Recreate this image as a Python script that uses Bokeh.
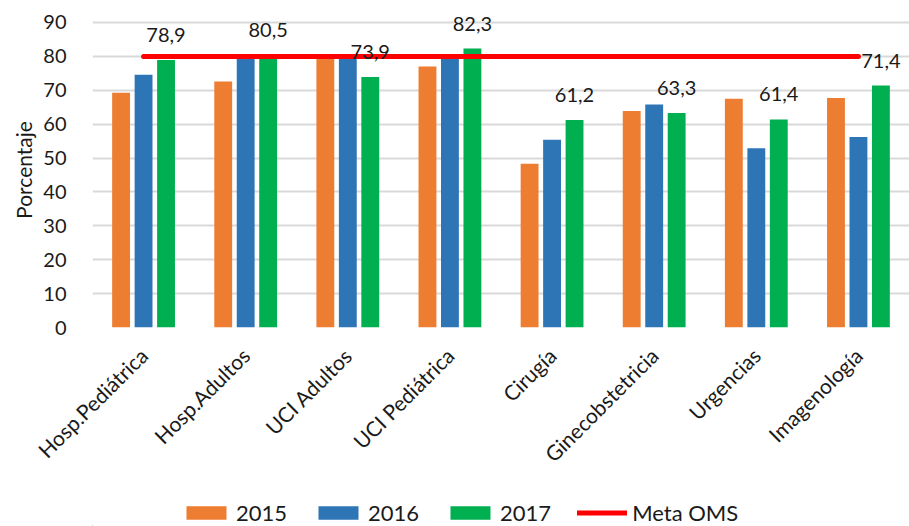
import math
from bokeh.plotting import figure
from bokeh.layouts import column
from bokeh.models import ColumnDataSource, FactorRange, Range1d, Legend, LegendItem, FixedTicker
from bokeh.transform import dodge
from bokeh.core.properties import value
from bokeh.embed import file_html
from bokeh.resources import INLINE

categories = ["Hosp.Pediátrica", "Hosp.Adultos", "UCI Adultos", "UCI Pediátrica",
              "Cirugía", "Ginecobstetricia", "Urgencias", "Imagenología"]
v2015 = [69.3, 72.6, 79.6, 77.0, 48.3, 63.9, 67.5, 67.7]
v2016 = [74.6, 80.1, 79.8, 79.6, 55.4, 65.8, 52.9, 56.2]
v2017 = [78.9, 80.5, 73.9, 82.3, 61.2, 63.3, 61.4, 71.4]
meta_oms = 80
y_ticks = [0, 10, 20, 30, 40, 50, 60, 70, 80, 90]
series_names = ["2015", "2016", "2017", "Meta OMS"]
colors = ["#ED7D31", "#2E75B6", "#00B050", "#FF0000"]

labels2017 = [f"{v:.1f}".replace(".", ",") for v in v2017]

src = ColumnDataSource(dict(cat=categories, v2015=v2015, v2016=v2016, v2017=v2017,
                            lab=labels2017))

FONT = "Lato"
TXT = "#1a1a1a"

# frame top extended ~10px above the 90 gridline so the labels are not clipped
p = figure(width=909, height=498, x_range=FactorRange(*categories, range_padding=0),
           y_range=Range1d(0, 92.95), output_backend="svg", toolbar_location=None,
           min_border_left=92, min_border_right=0, min_border_top=12, min_border_bottom=171)
p.outline_line_color = None
p.background_fill_color = "white"

bw = 0.175
p.vbar(x=dodge("cat", -0.22, range=p.x_range), top="v2015", width=bw, source=src,
       fill_color=colors[0], line_color=None)
p.vbar(x=dodge("cat", 0.0, range=p.x_range), top="v2016", width=bw, source=src,
       fill_color=colors[1], line_color=None)
p.vbar(x=dodge("cat", 0.22, range=p.x_range), top="v2017", width=bw, source=src,
       fill_color=colors[2], line_color=None)
p.line(x=[categories[0], categories[-1]], y=[meta_oms, meta_oms], line_width=5,
       line_color=colors[3], line_cap="round")

p.text(x=dodge("cat", 0.22, range=p.x_range), y="v2017", text="lab", source=src,
       text_font=value(FONT), text_font_size="20px", text_align="center",
       text_baseline="middle", y_offset=-25, text_color=TXT)

# axes
p.yaxis.ticker = FixedTicker(ticks=y_ticks)
p.yaxis.axis_line_color = None
p.yaxis.major_tick_line_color = None
p.yaxis.minor_tick_line_color = None
p.yaxis.major_label_text_font = FONT
p.yaxis.major_label_text_font_size = "20px"
p.yaxis.major_label_text_color = TXT
p.yaxis.major_label_standoff = 20
p.yaxis.axis_label = "Porcentaje"
p.yaxis.axis_label_text_font = FONT
p.yaxis.axis_label_text_font_size = "21px"
p.yaxis.axis_label_text_font_style = "normal"
p.yaxis.axis_label_text_color = TXT
p.yaxis.axis_label_standoff = 4

p.xaxis.axis_line_color = None
p.xaxis.major_tick_line_color = None
p.xaxis.minor_tick_line_color = None
p.xaxis.major_label_orientation = math.pi / 4
p.xaxis.major_label_text_font = FONT
p.xaxis.major_label_text_font_size = "21px"
p.xaxis.major_label_text_color = TXT
p.xaxis.major_label_standoff = 18

p.xgrid.grid_line_color = None
p.ygrid.grid_line_color = "#d9d9d9"
p.ygrid.grid_line_width = 2

# legend in a separate strip (its frame is aligned with the main frame, x starts at 92)
lf = figure(width=909, height=28, x_range=Range1d(0, 909), y_range=Range1d(0, 28),
            output_backend="svg", toolbar_location=None, x_axis_type=None, y_axis_type=None,
            min_border=0)
lf.outline_line_color = None
lf.xgrid.grid_line_color = None
lf.ygrid.grid_line_color = None
lr = []
for c in colors[:3]:
    lr.append(lf.vbar(x=[-500], top=[1], width=1, fill_color=c, line_color=None))
lr.append(lf.line(x=[-500, -490], y=[1, 1], line_width=5, line_color=colors[3],
                  line_cap="round"))

legend = Legend(items=[LegendItem(label=n, renderers=[r]) for n, r in zip(series_names, lr)],
                orientation="horizontal", location=(89, 0),
                glyph_width=50, glyph_height=17, label_text_font=FONT,
                label_text_font_size="22px", label_text_color=TXT,
                spacing=26, label_standoff=5, border_line_color=None,
                background_fill_alpha=0, margin=0, padding=2)
lf.add_layout(legend, "center")

layout = column(p, lf, spacing=0)
open("out.html", "w").write(file_html(layout, INLINE))
